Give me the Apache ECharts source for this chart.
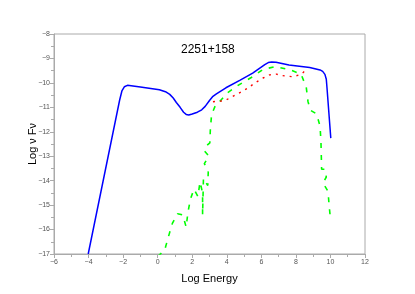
<!DOCTYPE html>
<html>
<head>
<meta charset="utf-8">
<script src="https://cdn.jsdelivr.net/npm/echarts@6/dist/echarts.min.js"></script>
<style>html,body{margin:0;padding:0;background:#fff}#c{width:415px;height:294px}</style>
</head>
<body>
<div id="c"></div>
<script>
const chartTitle = '2251+158';
const xName = 'Log Energy';
const yName = 'Log \u03bd F\u03bd';

const blueTotal = [
  [-4.02,-17.0],[-2.2,-10.7],[-2.07,-10.33],[-1.93,-10.16],[-1.75,-10.1],[-1.0,-10.17],
  [0.1,-10.28],[0.45,-10.36],[0.7,-10.47],[0.9,-10.62],[1.08,-10.8],[1.3,-11.0],
  [1.5,-11.2],[1.65,-11.29],[1.8,-11.31],[2.0,-11.27],[2.3,-11.2],[2.55,-11.1],
  [2.75,-10.96],[3.0,-10.72],[3.2,-10.55],[3.4,-10.45],[3.95,-10.2],[4.75,-9.9],
  [5.5,-9.6],[6.2,-9.25],[6.4,-9.17],[6.6,-9.15],[6.85,-9.16],[7.6,-9.27],
  [8.8,-9.37],[9.4,-9.47],[9.55,-9.53],[9.68,-9.65],[9.76,-9.85],[9.8,-10.2],[10.02,-12.26]
];

const redComponent = [
  [3.2,-10.77],[3.88,-10.73],[4.46,-10.51],[4.84,-10.37],[5.23,-10.21],[5.61,-10.01],
  [6.1,-9.8],[6.48,-9.67],[6.87,-9.64],[7.2,-9.7],[7.83,-9.75],[8.3,-9.65],[8.7,-9.4]
];

const greenComponent = [
  [0.0,-17.1],[0.4,-16.85],[0.6,-16.35],[0.85,-15.75],[1.15,-15.35],[1.45,-15.4],
  [1.65,-15.9],[1.75,-15.3],[1.9,-14.75],[2.1,-14.35],[2.33,-14.65],[2.45,-14.05],
  [2.6,-14.5],[2.6,-15.4],[2.65,-13.9],[2.9,-14.2],[2.93,-13.6],[2.7,-13.3],
  [2.97,-13.0],[2.72,-12.8],[2.78,-12.6],[3.02,-12.45],[3.05,-11.9],[3.12,-11.3],
  [3.4,-10.82],[3.6,-10.75],[4.05,-10.4],[4.7,-10.08],[5.42,-9.78],[6.08,-9.46],
  [6.8,-9.33],[7.64,-9.46],[8.3,-9.64],[8.6,-10.18],[8.7,-10.76],[8.84,-11.12],
  [9.2,-11.27],[9.4,-11.78],[9.45,-12.39],[9.47,-12.94],[9.49,-13.53],[9.68,-13.53],
  [9.76,-13.85],[9.57,-14.1],[9.86,-14.44],[9.92,-14.98],[10.0,-15.56]
];

const font = 'Liberation Sans, Arial, sans-serif';
const fmt = v => String(v).replace('-', '\u2212');
const chart = echarts.init(document.getElementById('c'), null, {renderer: 'canvas'});
chart.setOption({
  animation: false,
  backgroundColor: '#ffffff',
  title: {
    text: chartTitle, left: 181, top: 44, padding: 0,
    textStyle: {fontFamily: font, fontSize: 12, fontWeight: 'normal', color: '#000'}
  },
  grid: {left: 54, right: 50, top: 34, bottom: 40, show: true, borderColor: '#aaaaaa', borderWidth: 1},
  xAxis: {
    type: 'value', min: -6, max: 12, interval: 2,
    name: xName, nameLocation: 'middle', nameGap: 19, nameMoveOverlap: false,
    nameTextStyle: {fontFamily: font, fontSize: 11, color: '#000'},
    axisLine: {show: true, onZero: false, lineStyle: {color: '#aaaaaa', width: 1}},
    axisTick: {show: true, inside: false, length: 4, lineStyle: {color: '#aaaaaa'}},
    minorTick: {show: true, splitNumber: 2, length: 3, lineStyle: {color: '#aaaaaa'}},
    axisLabel: {fontFamily: font, fontSize: 7, color: '#555', margin: 5, formatter: fmt},
    splitLine: {show: false}
  },
  yAxis: {
    type: 'value', min: -17, max: -8, interval: 1,
    name: yName, nameLocation: 'middle', nameGap: 16, nameMoveOverlap: false,
    nameTextStyle: {fontFamily: font, fontSize: 11, color: '#000'},
    axisLine: {show: true, onZero: false, lineStyle: {color: '#aaaaaa', width: 1}},
    axisTick: {show: true, inside: false, length: 4, lineStyle: {color: '#aaaaaa'}},
    minorTick: {show: true, splitNumber: 2, length: 3, lineStyle: {color: '#aaaaaa'}},
    axisLabel: {fontFamily: font, fontSize: 7, color: '#555', margin: 4, formatter: fmt},
    splitLine: {show: false}
  },
  series: [
    {type: 'line', data: greenComponent, showSymbol: false, symbol: 'none', clip: true,
     lineStyle: {color: '#00ff00', width: 1.6, type: [5, 7]}, z: 2},
    {type: 'line', data: redComponent, showSymbol: false, symbol: 'none', clip: true,
     lineStyle: {color: '#ff0000', width: 1.4, type: [2, 5]}, z: 3},
    {type: 'line', data: blueTotal, showSymbol: false, symbol: 'none', clip: true,
     lineStyle: {color: '#0000ff', width: 1.5}, z: 4}
  ]
});
</script>
</body>
</html>
